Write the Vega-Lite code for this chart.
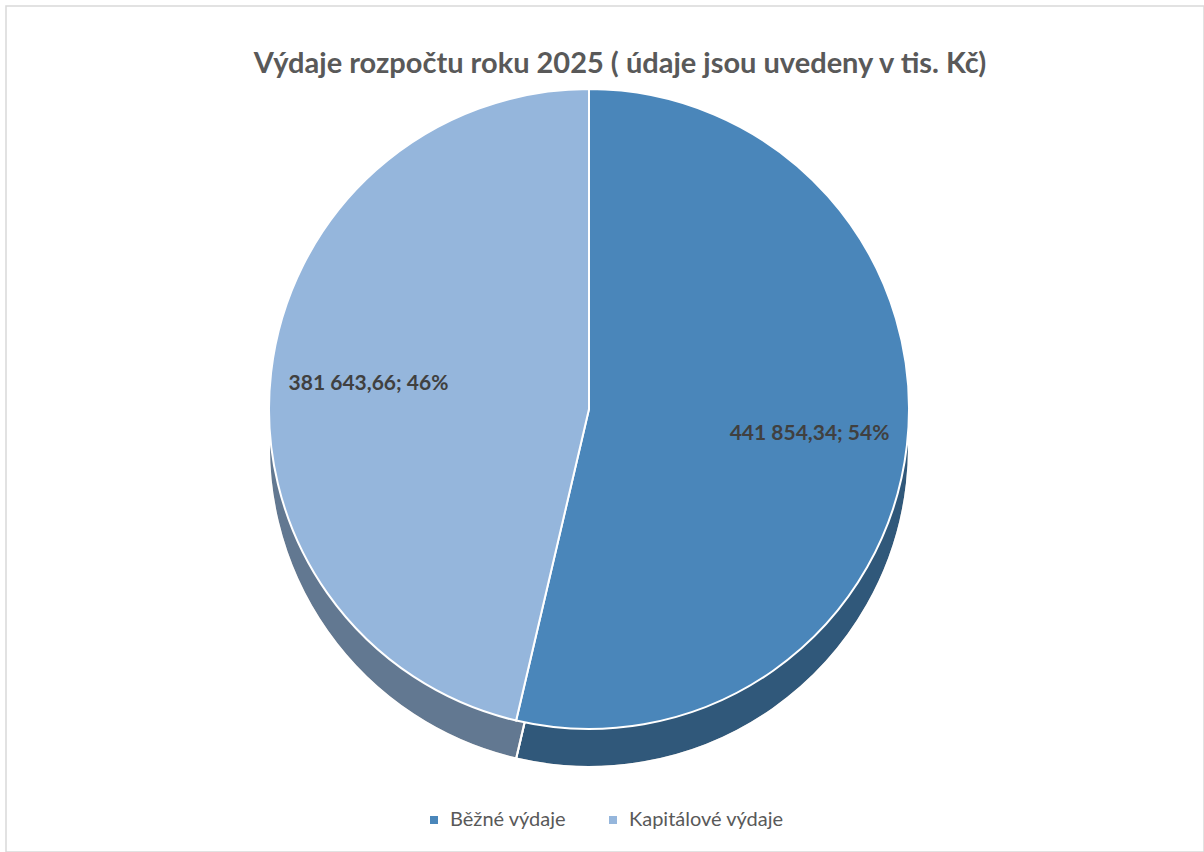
{
  "$schema": "https://vega.github.io/schema/vega-lite/v6.json",
  "autosize": {"type": "fit", "contains": "padding"},
  "width": 1204,
  "height": 852,
  "padding": {"top": 6, "left": 6, "right": 0, "bottom": 0},
  "background": "white",
  "view": {"stroke": "#d9d9d9", "strokeWidth": 1.5},
  "config": {
    "view": {"stroke": "#d9d9d9", "strokeWidth": 1.5},
    "font": "Lato"
  },
  "title": {
    "text": "Výdaje rozpočtu roku 2025 ( údaje jsou uvedeny v tis. Kč)",
    "font": "Lato",
    "fontSize": 29,
    "fontWeight": "bold",
    "color": "#595959",
    "anchor": "middle",
    "frame": "group",
    "orient": "top",
    "offset": -73,
    "dx": 15
  },
  "data": {
    "values": [
      {"kategorie": "Běžné výdaje", "hodnota": 441854.34, "popisek": "441 854,34; 54%"},
      {"kategorie": "Kapitálové výdaje", "hodnota": 381643.66, "popisek": "381 643,66; 46%"}
    ]
  },
  "layer": [
    {
      "mark": {"type": "arc", "outerRadius": 320, "yOffset": 18, "xOffset": -16, "stroke": "white", "strokeWidth": 2},
      "encoding": {
        "theta": {"field": "hodnota", "type": "quantitative", "stack": true},
        "order": {"field": "hodnota", "type": "quantitative", "sort": "descending"},
        "color": {
          "field": "kategorie",
          "type": "nominal",
          "scale": {"domain": ["Běžné výdaje", "Kapitálové výdaje"], "range": ["#4a86ba", "#95b6dc"]},
          "legend": {
            "title": null,
            "orient": "none",
            "direction": "horizontal",
            "legendX": 418,
            "legendY": 804,
            "padding": 0,
            "symbolType": "square",
            "symbolSize": 64,
            "symbolStrokeWidth": 0,
            "labelFont": "Lato",
            "labelFontSize": 20,
            "labelColor": "#595959",
            "labelOffset": 6,
            "columnPadding": 36
          }
        }
      }
    },
    {
      "mark": {"type": "arc", "outerRadius": 320, "yOffset": 18, "xOffset": -16, "fill": "#000000", "fillOpacity": 0.34, "stroke": "white", "strokeWidth": 2},
      "encoding": {
        "theta": {"field": "hodnota", "type": "quantitative", "stack": true},
        "order": {"field": "hodnota", "type": "quantitative", "sort": "descending"},
        "detail": {"field": "kategorie", "type": "nominal"}
      }
    },
    {
      "mark": {"type": "arc", "outerRadius": 320, "yOffset": -20, "xOffset": -16, "stroke": "white", "strokeWidth": 2},
      "encoding": {
        "theta": {"field": "hodnota", "type": "quantitative", "stack": true},
        "order": {"field": "hodnota", "type": "quantitative", "sort": "descending"},
        "color": {"field": "kategorie", "type": "nominal"}
      }
    },
    {
      "mark": {"type": "text", "radius": 222, "yOffset": -20, "xOffset": -16, "font": "Lato", "fontSize": 21, "fontWeight": "bold", "color": "#404040"},
      "encoding": {
        "theta": {"field": "hodnota", "type": "quantitative", "stack": true},
        "order": {"field": "hodnota", "type": "quantitative", "sort": "descending"},
        "detail": {"field": "kategorie", "type": "nominal"},
        "text": {"field": "popisek", "type": "nominal"}
      }
    }
  ]
}
